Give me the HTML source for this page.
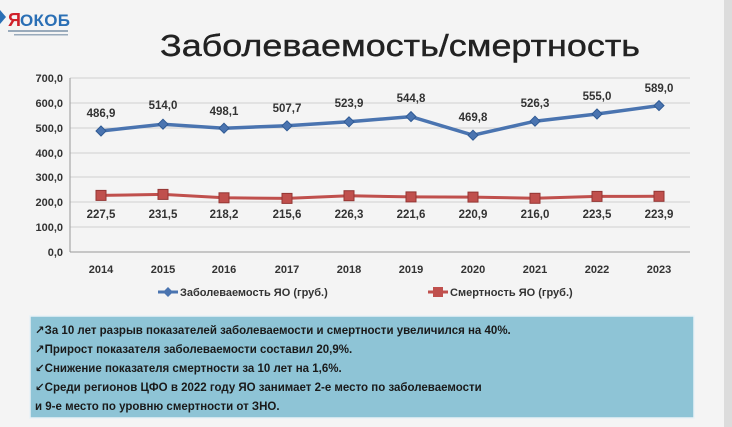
<!DOCTYPE html>
<html><head><meta charset="utf-8"><style>
body{margin:0;width:732px;height:427px;overflow:hidden;background:#f3f3f3;font-family:"Liberation Sans","DejaVu Sans",sans-serif;}
</style></head><body>
<svg width="732" height="427" viewBox="0 0 732 427" xmlns="http://www.w3.org/2000/svg" style="position:absolute;left:0;top:0">
<rect x="0" y="0" width="732" height="427" fill="#f4f4f4"/>
<rect x="724" y="0" width="8" height="427" fill="#dcdcdc"/>
<!-- logo -->
<path d="M0 10 L6 17 L0 24 Z" fill="#2a6fb5"/>
<text x="8" y="26" font-size="18" font-weight="bold" fill="#d0202a" font-family="Liberation Sans,sans-serif">Я</text>
<text x="20" y="26" font-size="17" font-weight="bold" fill="#2a6fb5" font-family="Liberation Sans,sans-serif" textLength="50">ОКОБ</text>
<rect x="8" y="30" width="60" height="2" fill="#9ab"/>
<rect x="14" y="34" width="54" height="1.5" fill="#9ab"/>
<text x="160" y="56" font-size="31" fill="#222" stroke="#222" stroke-width="0.4" textLength="480" lengthAdjust="spacingAndGlyphs" font-family="Liberation Sans,DejaVu Sans,sans-serif">Заболеваемость/смертность</text>
<g stroke="#d0d0d0" stroke-width="1">
<line x1="70" y1="78" x2="690" y2="78"/><line x1="70" y1="103" x2="690" y2="103"/>
<line x1="70" y1="128" x2="690" y2="128"/><line x1="70" y1="153" x2="690" y2="153"/>
<line x1="70" y1="177" x2="690" y2="177"/><line x1="70" y1="202" x2="690" y2="202"/>
<line x1="70" y1="227" x2="690" y2="227"/>
</g>
<line x1="70" y1="78" x2="70" y2="252" stroke="#999"/>
<line x1="70" y1="252" x2="690" y2="252" stroke="#999"/>
<g font-size="11" font-weight="bold" fill="#333" text-anchor="end">
<text x="63" y="82">700,0</text><text x="63" y="107">600,0</text><text x="63" y="132">500,0</text>
<text x="63" y="157">400,0</text><text x="63" y="181">300,0</text><text x="63" y="206">200,0</text>
<text x="63" y="231">100,0</text><text x="63" y="256">0,0</text>
</g>
<g font-size="11" font-weight="bold" fill="#333" text-anchor="middle">
<text x="101" y="273">2014</text><text x="163" y="273">2015</text><text x="224" y="273">2016</text>
<text x="287" y="273">2017</text><text x="349" y="273">2018</text><text x="411" y="273">2019</text>
<text x="473" y="273">2020</text><text x="535" y="273">2021</text><text x="597" y="273">2022</text>
<text x="659" y="273">2023</text>
</g>
<polyline fill="none" stroke="#4a74b0" stroke-width="3.5" points="101,131 163,124.2 224,128.2 287,125.8 349,121.8 411,116.6 473,135.2 535,121.2 597,114 659,105.6"/>
<g fill="#4a74b0" stroke="#2f5a94">
<path d="M101 126l5 5-5 5-5-5z"/><path d="M163 119.2l5 5-5 5-5-5z"/><path d="M224 123.2l5 5-5 5-5-5z"/>
<path d="M287 120.8l5 5-5 5-5-5z"/><path d="M349 116.8l5 5-5 5-5-5z"/><path d="M411 111.6l5 5-5 5-5-5z"/>
<path d="M473 130.2l5 5-5 5-5-5z"/><path d="M535 116.2l5 5-5 5-5-5z"/><path d="M597 109l5 5-5 5-5-5z"/>
<path d="M659 100.6l5 5-5 5-5-5z"/>
</g>
<polyline fill="none" stroke="#c0504d" stroke-width="3" points="101,195.4 163,194.4 224,197.8 287,198.4 349,195.7 411,196.9 473,197.1 535,198.3 597,196.4 659,196.3"/>
<g fill="#c0504d" stroke="#943634">
<rect x="96" y="190.4" width="10" height="10"/><rect x="158" y="189.4" width="10" height="10"/><rect x="219" y="192.8" width="10" height="10"/>
<rect x="282" y="193.4" width="10" height="10"/><rect x="344" y="190.7" width="10" height="10"/><rect x="406" y="191.9" width="10" height="10"/>
<rect x="468" y="192.1" width="10" height="10"/><rect x="530" y="193.3" width="10" height="10"/><rect x="592" y="191.4" width="10" height="10"/>
<rect x="654" y="191.3" width="10" height="10"/>
</g>
<g font-size="11.5" font-weight="bold" fill="#333" text-anchor="middle">
<text x="101" y="117">486,9</text><text x="163" y="109">514,0</text><text x="224" y="115">498,1</text>
<text x="287" y="112">507,7</text><text x="349" y="107">523,9</text><text x="411" y="102">544,8</text>
<text x="473" y="121">469,8</text><text x="535" y="107">526,3</text><text x="597" y="100">555,0</text>
<text x="659" y="92">589,0</text>
<text x="101" y="218">227,5</text><text x="163" y="218">231,5</text><text x="224" y="218">218,2</text>
<text x="287" y="218">215,6</text><text x="349" y="218">226,3</text><text x="411" y="218">221,6</text>
<text x="473" y="218">220,9</text><text x="535" y="218">216,0</text><text x="597" y="218">223,5</text>
<text x="659" y="218">223,9</text>
</g>
<line x1="158" y1="292" x2="178" y2="292" stroke="#4a74b0" stroke-width="3"/>
<path d="M168 287l5 5-5 5-5-5z" fill="#4a74b0"/>
<text x="180" y="296" font-size="11" font-weight="bold" fill="#333">Заболеваемость ЯО (груб.)</text>
<line x1="428" y1="292" x2="448" y2="292" stroke="#c0504d" stroke-width="3"/>
<rect x="433" y="287" width="10" height="10" fill="#c0504d"/>
<text x="450" y="296" font-size="11" font-weight="bold" fill="#333">Смертность ЯО (груб.)</text>
<rect x="30" y="316" width="664" height="102" fill="#8ec4d6" stroke="#e8f2f6" stroke-width="1.5"/>
<g font-size="11.5" font-weight="bold" fill="#1a1a1a">
<text x="35" y="334">↗За 10 лет разрыв показателей заболеваемости и смертности увеличился на 40%.</text>
<text x="35" y="353">↗Прирост показателя заболеваемости составил 20,9%.</text>
<text x="35" y="372">↙Снижение показателя смертности за 10 лет на 1,6%.</text>
<text x="35" y="391">↙Среди регионов  ЦФО в 2022 году ЯО занимает 2-е место по заболеваемости</text>
<text x="35" y="410">и 9-е место по уровню смертности от ЗНО.</text>
</g>
</svg>
</body></html>
